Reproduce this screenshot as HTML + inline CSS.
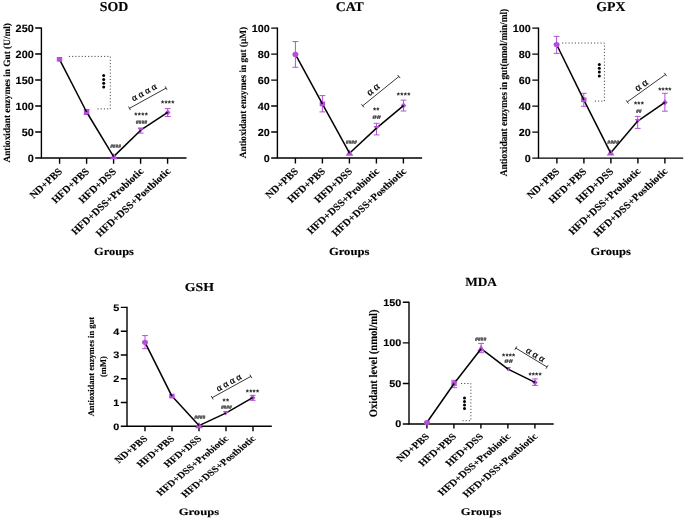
<!DOCTYPE html>
<html><head><meta charset="utf-8"><style>
html,body{margin:0;padding:0;background:#fff;}
svg{display:block;filter:blur(0.35px);}
text{text-rendering:geometricPrecision;}
.t{stroke:#000;stroke-width:0.12px;}
</style></head><body>
<svg width="685" height="519" viewBox="0 0 685 519">
<rect width="685" height="519" fill="#fff"/>
<g><path d="M41.4 27.4V158H186.5" stroke="#000" stroke-width="1.4" fill="none"/><text class="t" transform="translate(33.7 31.75) scale(1.0314 1)" font-family='"Liberation Sans", sans-serif' font-weight="bold" font-size="10.5" text-anchor="end" >250</text><text class="t" transform="translate(33.7 57.75) scale(1.0314 1)" font-family='"Liberation Sans", sans-serif' font-weight="bold" font-size="10.5" text-anchor="end" >200</text><text class="t" transform="translate(33.7 83.75) scale(1.0314 1)" font-family='"Liberation Sans", sans-serif' font-weight="bold" font-size="10.5" text-anchor="end" >150</text><text class="t" transform="translate(33.7 109.75) scale(1.0314 1)" font-family='"Liberation Sans", sans-serif' font-weight="bold" font-size="10.5" text-anchor="end" >100</text><text class="t" transform="translate(33.7 135.75) scale(1.0314 1)" font-family='"Liberation Sans", sans-serif' font-weight="bold" font-size="10.5" text-anchor="end" >50</text><text class="t" transform="translate(33.7 161.75) scale(1.0314 1)" font-family='"Liberation Sans", sans-serif' font-weight="bold" font-size="10.5" text-anchor="end" >0</text><text class="t" transform="translate(63.1 172) scale(1.0870 1) rotate(-45)" font-family='"Liberation Serif", serif' font-weight="bold" font-size="9.93" text-anchor="end" >ND+PBS</text><text class="t" transform="translate(90.1 172) scale(1.0870 1) rotate(-45)" font-family='"Liberation Serif", serif' font-weight="bold" font-size="9.93" text-anchor="end" >HFD+PBS</text><text class="t" transform="translate(117.1 172) scale(1.0870 1) rotate(-45)" font-family='"Liberation Serif", serif' font-weight="bold" font-size="9.93" text-anchor="end" >HFD+DSS</text><text class="t" transform="translate(144.1 172) scale(1.0870 1) rotate(-45)" font-family='"Liberation Serif", serif' font-weight="bold" font-size="9.93" text-anchor="end" >HFD+DSS+Probiotic</text><text class="t" transform="translate(171.1 172) scale(1.0870 1) rotate(-45)" font-family='"Liberation Serif", serif' font-weight="bold" font-size="9.93" text-anchor="end" >HFD+DSS+Postbiotic</text><path d="M35.2 28H41.4M35.2 54H41.4M35.2 80H41.4M35.2 106H41.4M35.2 132H41.4M35.2 158H41.4M59.6 158V163.8M86.6 158V163.8M113.6 158V163.8M140.6 158V163.8M167.6 158V163.8" stroke="#000" stroke-width="1.4" fill="none"/><text class="t" transform="translate(113.95 10.7) scale(1.0192 1)" font-family='"Liberation Serif", serif' font-weight="bold" font-size="13.6" text-anchor="middle" >SOD</text><text class="t" transform="translate(113.95 254.6) scale(1.1312 1)" font-family='"Liberation Serif", serif' font-weight="bold" font-size="11.0" text-anchor="middle" >Groups</text><text class="t" transform="translate(10 92.8) scale(1.0300 1) rotate(-90)" font-family='"Liberation Serif", serif' font-weight="bold" font-size="9.3" text-anchor="middle" >Antioxidant enzymes in Gut (U/ml)</text><path d="M86.6 109.5V114.5M83.7 109.5H89.5M83.7 114.5H89.5" stroke="#b450d8" stroke-width="1.0" fill="none"/><path d="M140.7 128V133.1M137.8 128H143.6M137.8 133.1H143.6" stroke="#b450d8" stroke-width="1.0" fill="none"/><path d="M167.7 108.6V116.5M164.8 108.6H170.6M164.8 116.5H170.6" stroke="#b450d8" stroke-width="1.0" fill="none"/><path d="M167.7 109.4L170.5 112.4L167.7 115.4L164.9 112.4Z" fill="#b450d8"/><path d="M140.7 130.2L167.7 112.4" stroke="#000" stroke-width="1.5" fill="none"/><path d="M140.7 132.6L143.6 128L137.8 128Z" fill="#b450d8"/><path d="M113.6 156.6L140.7 130.2" stroke="#000" stroke-width="1.5" fill="none"/><path d="M113.6 153L117.4 159.2L109.8 159.2Z" fill="#b450d8"/><path d="M86.6 112L113.6 156.6" stroke="#000" stroke-width="1.5" fill="none"/><rect x="83.9" y="109.65" width="5.4" height="4.7" fill="#b450d8"/><path d="M59.5 59.3L86.6 112" stroke="#000" stroke-width="1.5" fill="none"/><rect x="56.8" y="56.95" width="5.4" height="4.7" fill="#b450d8"/></g>
<g><path d="M277.4 27.5V158.05H422.1" stroke="#000" stroke-width="1.4" fill="none"/><text class="t" transform="translate(269.7 31.78) scale(1.0509 1)" font-family='"Liberation Sans", sans-serif' font-weight="bold" font-size="10.311" text-anchor="end" >100</text><text class="t" transform="translate(269.7 57.77) scale(1.0509 1)" font-family='"Liberation Sans", sans-serif' font-weight="bold" font-size="10.311" text-anchor="end" >80</text><text class="t" transform="translate(269.7 83.76) scale(1.0509 1)" font-family='"Liberation Sans", sans-serif' font-weight="bold" font-size="10.311" text-anchor="end" >60</text><text class="t" transform="translate(269.7 109.75) scale(1.0509 1)" font-family='"Liberation Sans", sans-serif' font-weight="bold" font-size="10.311" text-anchor="end" >40</text><text class="t" transform="translate(269.7 135.74) scale(1.0509 1)" font-family='"Liberation Sans", sans-serif' font-weight="bold" font-size="10.311" text-anchor="end" >20</text><text class="t" transform="translate(269.7 161.73) scale(1.0509 1)" font-family='"Liberation Sans", sans-serif' font-weight="bold" font-size="10.311" text-anchor="end" >0</text><text class="t" transform="translate(299 171.95) scale(1.0990 1) rotate(-45)" font-family='"Liberation Serif", serif' font-weight="bold" font-size="9.84" text-anchor="end" >ND+PBS</text><text class="t" transform="translate(326 171.95) scale(1.0990 1) rotate(-45)" font-family='"Liberation Serif", serif' font-weight="bold" font-size="9.84" text-anchor="end" >HFD+PBS</text><text class="t" transform="translate(353 171.95) scale(1.0990 1) rotate(-45)" font-family='"Liberation Serif", serif' font-weight="bold" font-size="9.84" text-anchor="end" >HFD+DSS</text><text class="t" transform="translate(380 171.95) scale(1.0990 1) rotate(-45)" font-family='"Liberation Serif", serif' font-weight="bold" font-size="9.84" text-anchor="end" >HFD+DSS+Probiotic</text><text class="t" transform="translate(407 171.95) scale(1.0990 1) rotate(-45)" font-family='"Liberation Serif", serif' font-weight="bold" font-size="9.84" text-anchor="end" >HFD+DSS+Postbiotic</text><path d="M271.2 28.1H277.4M271.2 54.09H277.4M271.2 80.08H277.4M271.2 106.07H277.4M271.2 132.06H277.4M271.2 158.05H277.4M295.4 158.05V163.55M322.4 158.05V163.55M349.4 158.05V163.55M376.4 158.05V163.55M403.4 158.05V163.55" stroke="#000" stroke-width="1.4" fill="none"/><text class="t" transform="translate(349.75 10.7) scale(1.0385 1)" font-family='"Liberation Serif", serif' font-weight="bold" font-size="13.3552" text-anchor="middle" >CAT</text><text class="t" transform="translate(349.15 254.9) scale(1.1695 1)" font-family='"Liberation Serif", serif' font-weight="bold" font-size="10.802" text-anchor="middle" >Groups</text><text class="t" transform="translate(246 92.6) scale(1.0300 1) rotate(-90)" font-family='"Liberation Serif", serif' font-weight="bold" font-size="9.3" text-anchor="middle" >Antioxidant enzymes in gut (μM)</text><path d="M295.4 41.6V67.3M292.5 41.6H298.3M292.5 67.3H298.3" stroke="#b450d8" stroke-width="1.0" fill="none"/><path d="M322.4 95.6V111.9M319.5 95.6H325.3M319.5 111.9H325.3" stroke="#b450d8" stroke-width="1.0" fill="none"/><path d="M376.5 123.3V134.9M373.6 123.3H379.4M373.6 134.9H379.4" stroke="#b450d8" stroke-width="1.0" fill="none"/><path d="M403.5 100.1V111M400.6 100.1H406.4M400.6 111H406.4" stroke="#b450d8" stroke-width="1.0" fill="none"/><path d="M403.5 102.6L406.3 105.6L403.5 108.6L400.7 105.6Z" fill="#b450d8"/><path d="M376.5 128.1L403.5 105.6" stroke="#000" stroke-width="1.5" fill="none"/><path d="M376.5 130.5L379.4 125.9L373.6 125.9Z" fill="#b450d8"/><path d="M349.5 153.2L376.5 128.1" stroke="#000" stroke-width="1.5" fill="none"/><path d="M349.5 149.6L353.3 155.8L345.7 155.8Z" fill="#b450d8"/><path d="M322.4 103.9L349.5 153.2" stroke="#000" stroke-width="1.5" fill="none"/><rect x="319.7" y="101.55" width="5.4" height="4.7" fill="#b450d8"/><path d="M295.4 54.4L322.4 103.9" stroke="#000" stroke-width="1.5" fill="none"/><ellipse cx="295.4" cy="54.4" rx="3.0" ry="2.55" fill="#b450d8"/></g>
<g><path d="M538.5 27.5V158.1H683.2" stroke="#000" stroke-width="1.4" fill="none"/><text class="t" transform="translate(530.8 31.82) scale(1.0360 1)" font-family='"Liberation Sans", sans-serif' font-weight="bold" font-size="10.416" text-anchor="end" >100</text><text class="t" transform="translate(530.8 57.82) scale(1.0360 1)" font-family='"Liberation Sans", sans-serif' font-weight="bold" font-size="10.416" text-anchor="end" >80</text><text class="t" transform="translate(530.8 83.82) scale(1.0360 1)" font-family='"Liberation Sans", sans-serif' font-weight="bold" font-size="10.416" text-anchor="end" >60</text><text class="t" transform="translate(530.8 109.82) scale(1.0360 1)" font-family='"Liberation Sans", sans-serif' font-weight="bold" font-size="10.416" text-anchor="end" >40</text><text class="t" transform="translate(530.8 135.82) scale(1.0360 1)" font-family='"Liberation Sans", sans-serif' font-weight="bold" font-size="10.416" text-anchor="end" >20</text><text class="t" transform="translate(530.8 161.82) scale(1.0360 1)" font-family='"Liberation Sans", sans-serif' font-weight="bold" font-size="10.416" text-anchor="end" >0</text><text class="t" transform="translate(560.2 172) scale(1.0840 1) rotate(-45)" font-family='"Liberation Serif", serif' font-weight="bold" font-size="9.93" text-anchor="end" >ND+PBS</text><text class="t" transform="translate(587.2 172) scale(1.0840 1) rotate(-45)" font-family='"Liberation Serif", serif' font-weight="bold" font-size="9.93" text-anchor="end" >HFD+PBS</text><text class="t" transform="translate(614.2 172) scale(1.0840 1) rotate(-45)" font-family='"Liberation Serif", serif' font-weight="bold" font-size="9.93" text-anchor="end" >HFD+DSS</text><text class="t" transform="translate(641.2 172) scale(1.0840 1) rotate(-45)" font-family='"Liberation Serif", serif' font-weight="bold" font-size="9.93" text-anchor="end" >HFD+DSS+Probiotic</text><text class="t" transform="translate(668.2 172) scale(1.0840 1) rotate(-45)" font-family='"Liberation Serif", serif' font-weight="bold" font-size="9.93" text-anchor="end" >HFD+DSS+Postbiotic</text><path d="M532.3 28.1H538.5M532.3 54.1H538.5M532.3 80.1H538.5M532.3 106.1H538.5M532.3 132.1H538.5M532.3 158.1H538.5M556.9 158.1V163.6M583.9 158.1V163.6M610.9 158.1V163.6M637.9 158.1V163.6M664.9 158.1V163.6" stroke="#000" stroke-width="1.4" fill="none"/><text class="t" transform="translate(610.85 10.7) scale(1.0238 1)" font-family='"Liberation Serif", serif' font-weight="bold" font-size="13.4912" text-anchor="middle" >GPX</text><text class="t" transform="translate(610.65 254.9) scale(1.1530 1)" font-family='"Liberation Serif", serif' font-weight="bold" font-size="10.911999999999999" text-anchor="middle" >Groups</text><text class="t" transform="translate(507.3 92.5) scale(1.1000 1) rotate(-90)" font-family='"Liberation Serif", serif' font-weight="bold" font-size="9.38" text-anchor="middle" >Antioxidant enzymes in gut(nmol/min/ml)</text><path d="M556.6 36.4V53.4M553.7 36.4H559.5M553.7 53.4H559.5" stroke="#b450d8" stroke-width="1.0" fill="none"/><path d="M583.8 93.3V106.3M580.9 93.3H586.7M580.9 106.3H586.7" stroke="#b450d8" stroke-width="1.0" fill="none"/><path d="M637.7 116.4V128.4M634.8 116.4H640.6M634.8 128.4H640.6" stroke="#b450d8" stroke-width="1.0" fill="none"/><path d="M664.9 93.3V111.2M662 93.3H667.8M662 111.2H667.8" stroke="#b450d8" stroke-width="1.0" fill="none"/><path d="M664.9 99.4L667.7 102.4L664.9 105.4L662.1 102.4Z" fill="#b450d8"/><path d="M637.7 121.1L664.9 102.4" stroke="#000" stroke-width="1.5" fill="none"/><path d="M637.7 123.5L640.6 118.9L634.8 118.9Z" fill="#b450d8"/><path d="M610.6 152.9L637.7 121.1" stroke="#000" stroke-width="1.5" fill="none"/><path d="M610.6 149.3L614.4 155.5L606.8 155.5Z" fill="#b450d8"/><path d="M583.8 99.8L610.6 152.9" stroke="#000" stroke-width="1.5" fill="none"/><rect x="581.1" y="97.45" width="5.4" height="4.7" fill="#b450d8"/><path d="M556.6 44.5L583.8 99.8" stroke="#000" stroke-width="1.5" fill="none"/><ellipse cx="556.6" cy="44.5" rx="3.0" ry="2.55" fill="#b450d8"/></g>
<g><path d="M127 306.8V426.3H271.8" stroke="#000" stroke-width="1.4" fill="none"/><text class="t" transform="translate(119.3 310.75) scale(1.1560 1)" font-family='"Liberation Sans", sans-serif' font-weight="bold" font-size="9.387" text-anchor="end" >5</text><text class="t" transform="translate(119.3 334.53) scale(1.1560 1)" font-family='"Liberation Sans", sans-serif' font-weight="bold" font-size="9.387" text-anchor="end" >4</text><text class="t" transform="translate(119.3 358.31) scale(1.1560 1)" font-family='"Liberation Sans", sans-serif' font-weight="bold" font-size="9.387" text-anchor="end" >3</text><text class="t" transform="translate(119.3 382.09) scale(1.1560 1)" font-family='"Liberation Sans", sans-serif' font-weight="bold" font-size="9.387" text-anchor="end" >2</text><text class="t" transform="translate(119.3 405.87) scale(1.1560 1)" font-family='"Liberation Sans", sans-serif' font-weight="bold" font-size="9.387" text-anchor="end" >1</text><text class="t" transform="translate(119.3 429.65) scale(1.1560 1)" font-family='"Liberation Sans", sans-serif' font-weight="bold" font-size="9.387" text-anchor="end" >0</text><text class="t" transform="translate(148.2 439.3) scale(1.2090 1) rotate(-45)" font-family='"Liberation Serif", serif' font-weight="bold" font-size="8.94" text-anchor="end" >ND+PBS</text><text class="t" transform="translate(175.2 439.3) scale(1.2090 1) rotate(-45)" font-family='"Liberation Serif", serif' font-weight="bold" font-size="8.94" text-anchor="end" >HFD+PBS</text><text class="t" transform="translate(202.2 439.3) scale(1.2090 1) rotate(-45)" font-family='"Liberation Serif", serif' font-weight="bold" font-size="8.94" text-anchor="end" >HFD+DSS</text><text class="t" transform="translate(229.2 439.3) scale(1.2090 1) rotate(-45)" font-family='"Liberation Serif", serif' font-weight="bold" font-size="8.94" text-anchor="end" >HFD+DSS+Probiotic</text><text class="t" transform="translate(256.2 439.3) scale(1.2090 1) rotate(-45)" font-family='"Liberation Serif", serif' font-weight="bold" font-size="8.94" text-anchor="end" >HFD+DSS+Postbiotic</text><path d="M120.8 307.4H127M120.8 331.18H127M120.8 354.96H127M120.8 378.74H127M120.8 402.52H127M120.8 426.3H127M145 426.3V431.2M172 426.3V431.2M199 426.3V431.2M226 426.3V431.2M253 426.3V431.2" stroke="#000" stroke-width="1.4" fill="none"/><text class="t" transform="translate(199.4 291.4) scale(1.1423 1)" font-family='"Liberation Serif", serif' font-weight="bold" font-size="12.1584" text-anchor="middle" >GSH</text><text class="t" transform="translate(198.9 514.5) scale(1.2865 1)" font-family='"Liberation Serif", serif' font-weight="bold" font-size="9.834" text-anchor="middle" >Groups</text><text class="t" transform="translate(94 366.6) scale(1.0300 1) rotate(-90)" font-family='"Liberation Serif", serif' font-weight="bold" font-size="8.5" text-anchor="middle" >Antioxidant enzymes in gut</text><text class="t" transform="translate(106 366.6) scale(1.0300 1) rotate(-90)" font-family='"Liberation Serif", serif' font-weight="bold" font-size="8.5" text-anchor="middle" >(mM)</text><path d="M145 335.6V348.7M142.1 335.6H147.9M142.1 348.7H147.9" stroke="#b450d8" stroke-width="1.0" fill="none"/><path d="M252.7 395.3V400.3M249.8 395.3H255.6M249.8 400.3H255.6" stroke="#b450d8" stroke-width="1.0" fill="none"/><path d="M252.7 394.7L255.5 397.7L252.7 400.7L249.9 397.7Z" fill="#b450d8"/><path d="M225.8 413.1L252.7 397.7" stroke="#000" stroke-width="1.5" fill="none"/><path d="M225.8 415.5L228.7 410.9L222.9 410.9Z" fill="#b450d8"/><path d="M199 425.6L225.8 413.1" stroke="#000" stroke-width="1.5" fill="none"/><path d="M199 422L202.8 428.2L195.2 428.2Z" fill="#b450d8"/><path d="M171.9 396.1L199 425.6" stroke="#000" stroke-width="1.5" fill="none"/><rect x="169.2" y="393.75" width="5.4" height="4.7" fill="#b450d8"/><path d="M145 342.3L171.9 396.1" stroke="#000" stroke-width="1.5" fill="none"/><ellipse cx="145" cy="342.3" rx="3.0" ry="2.55" fill="#b450d8"/></g>
<g><path d="M409 301.7V424H553.7" stroke="#000" stroke-width="1.4" fill="none"/><text class="t" transform="translate(401.3 305.75) scale(1.1207 1)" font-family='"Liberation Sans", sans-serif' font-weight="bold" font-size="9.6705" text-anchor="end" >150</text><text class="t" transform="translate(401.3 346.32) scale(1.1207 1)" font-family='"Liberation Sans", sans-serif' font-weight="bold" font-size="9.6705" text-anchor="end" >100</text><text class="t" transform="translate(401.3 386.89) scale(1.1207 1)" font-family='"Liberation Sans", sans-serif' font-weight="bold" font-size="9.6705" text-anchor="end" >50</text><text class="t" transform="translate(401.3 427.45) scale(1.1207 1)" font-family='"Liberation Sans", sans-serif' font-weight="bold" font-size="9.6705" text-anchor="end" >0</text><text class="t" transform="translate(430.1 437.2) scale(1.1710 1) rotate(-45)" font-family='"Liberation Serif", serif' font-weight="bold" font-size="9.23" text-anchor="end" >ND+PBS</text><text class="t" transform="translate(457.1 437.2) scale(1.1710 1) rotate(-45)" font-family='"Liberation Serif", serif' font-weight="bold" font-size="9.23" text-anchor="end" >HFD+PBS</text><text class="t" transform="translate(484.1 437.2) scale(1.1710 1) rotate(-45)" font-family='"Liberation Serif", serif' font-weight="bold" font-size="9.23" text-anchor="end" >HFD+DSS</text><text class="t" transform="translate(511.1 437.2) scale(1.1710 1) rotate(-45)" font-family='"Liberation Serif", serif' font-weight="bold" font-size="9.23" text-anchor="end" >HFD+DSS+Probiotic</text><text class="t" transform="translate(538.1 437.2) scale(1.1710 1) rotate(-45)" font-family='"Liberation Serif", serif' font-weight="bold" font-size="9.23" text-anchor="end" >HFD+DSS+Postbiotic</text><path d="M402.8 302.3H409M402.8 342.87H409M402.8 383.43H409M402.8 424H409M426.9 424V428.6M453.9 424V428.6M480.9 424V428.6M507.9 424V428.6M534.9 424V428.6" stroke="#000" stroke-width="1.4" fill="none"/><text class="t" transform="translate(481.05 285.8) scale(1.0631 1)" font-family='"Liberation Serif", serif' font-weight="bold" font-size="12.5256" text-anchor="middle" >MDA</text><text class="t" transform="translate(481.05 514.6) scale(1.2472 1)" font-family='"Liberation Serif", serif' font-weight="bold" font-size="10.131" text-anchor="middle" >Groups</text><text class="t" transform="translate(377.1 363.4) scale(1.0900 1) rotate(-90)" font-family='"Liberation Serif", serif' font-weight="bold" font-size="10.6" text-anchor="middle" >Oxidant level (nmol/ml)</text><path d="M454.1 380.3V387.7M451.2 380.3H457M451.2 387.7H457" stroke="#b450d8" stroke-width="1.0" fill="none"/><path d="M481.1 343.4V352.7M478.2 343.4H484M478.2 352.7H484" stroke="#b450d8" stroke-width="1.0" fill="none"/><path d="M535 378.9V385.4M532.1 378.9H537.9M532.1 385.4H537.9" stroke="#b450d8" stroke-width="1.0" fill="none"/><path d="M535 379.4L537.8 382.4L535 385.4L532.2 382.4Z" fill="#b450d8"/><path d="M508 369.1L535 382.4" stroke="#000" stroke-width="1.5" fill="none"/><path d="M508 371.5L510.9 366.9L505.1 366.9Z" fill="#b450d8"/><path d="M481.1 348.7L508 369.1" stroke="#000" stroke-width="1.5" fill="none"/><path d="M481.1 345.1L484.9 351.3L477.3 351.3Z" fill="#b450d8"/><path d="M454.1 383.5L481.1 348.7" stroke="#000" stroke-width="1.5" fill="none"/><rect x="451.4" y="381.15" width="5.4" height="4.7" fill="#b450d8"/><path d="M426.9 422.5L454.1 383.5" stroke="#000" stroke-width="1.5" fill="none"/><ellipse cx="426.9" cy="422.5" rx="3.0" ry="2.55" fill="#b450d8"/></g>
<g><path d="M68.9 56.4L110.3 56.4L110.3 108.9L96.7 108.9" stroke="#444" stroke-width="1" stroke-dasharray="1.1 2.1" fill="none"/><path d="M562.1 43L604.4 43L604.4 101.1L594.7 101.1" stroke="#444" stroke-width="1" stroke-dasharray="1.1 2.1" fill="none"/><path d="M461 383.5L470.9 383.5L470.9 420.7L462.4 420.7" stroke="#444" stroke-width="1" stroke-dasharray="1.1 2.1" fill="none"/><circle cx="103.7" cy="75.6" r="1.5" fill="#000"/><circle cx="103.7" cy="79.42" r="1.5" fill="#000"/><circle cx="103.7" cy="83.24" r="1.5" fill="#000"/><circle cx="103.7" cy="87.06" r="1.5" fill="#000"/><circle cx="599.3" cy="64.5" r="1.5" fill="#000"/><circle cx="599.3" cy="68.3" r="1.5" fill="#000"/><circle cx="599.3" cy="72.1" r="1.5" fill="#000"/><circle cx="599.3" cy="75.9" r="1.5" fill="#000"/><circle cx="464.5" cy="397.9" r="1.5" fill="#000"/><circle cx="464.5" cy="401.45" r="1.5" fill="#000"/><circle cx="464.5" cy="405" r="1.5" fill="#000"/><circle cx="464.5" cy="408.55" r="1.5" fill="#000"/><path d="M129.5 108.3L166.1 88.1M130.47 110.05L128.53 106.55M167.07 89.85L165.13 86.35" stroke="#222" stroke-width="0.9" fill="none"/><text transform="translate(145.57 94.89) rotate(-28.89)" font-family='"Liberation Serif", serif' font-size="9.6" text-anchor="middle" fill="#000" stroke="#000" stroke-width="0.25">α α α α</text><path d="M362.7 105.8L398.9 76.5M363.96 107.35L361.44 104.25M400.16 78.05L397.64 74.95" stroke="#222" stroke-width="0.9" fill="none"/><text transform="translate(375.04 91.82) rotate(-38.99)" font-family='"Liberation Serif", serif' font-size="10.6" text-anchor="middle" fill="#000" stroke="#000" stroke-width="0.25">α α</text><path d="M627.3 101.9L665.5 74.5M628.47 103.53L626.13 100.27M666.67 76.13L664.33 72.87" stroke="#222" stroke-width="0.9" fill="none"/><text transform="translate(643.12 87.66) rotate(-35.65)" font-family='"Liberation Serif", serif' font-size="10.6" text-anchor="middle" fill="#000" stroke="#000" stroke-width="0.25">α α</text><path d="M212.2 397.7L250.8 376.4M213.17 399.45L211.23 395.95M251.77 378.15L249.83 374.65" stroke="#222" stroke-width="0.9" fill="none"/><text transform="translate(230.1 385.11) rotate(-28.89)" font-family='"Liberation Serif", serif' font-size="9.6" text-anchor="middle" fill="#000" stroke="#000" stroke-width="0.25">α α α α</text><path d="M515.8 348.1L547 367M514.76 349.81L516.84 346.39M545.96 368.71L548.04 365.29" stroke="#222" stroke-width="0.9" fill="none"/><text transform="translate(534 357.25) rotate(31.21)" font-family='"Liberation Serif", serif' font-size="9.9" text-anchor="middle" fill="#000" stroke="#000" stroke-width="0.25">α α α</text><text x="134.3" y="118.22" textLength="13.6" lengthAdjust="spacing" font-family='"Liberation Sans", sans-serif' font-weight="bold" font-size="8.0" fill="#111">****</text><text x="161" y="106.22" textLength="13.4" lengthAdjust="spacing" font-family='"Liberation Sans", sans-serif' font-weight="bold" font-size="8.0" fill="#111">****</text><text x="372.9" y="112.82" textLength="6.4" lengthAdjust="spacing" font-family='"Liberation Sans", sans-serif' font-weight="bold" font-size="8.0" fill="#111">**</text><text x="396.8" y="97.92" textLength="13.6" lengthAdjust="spacing" font-family='"Liberation Sans", sans-serif' font-weight="bold" font-size="8.0" fill="#111">****</text><text x="633.95" y="107.32" textLength="9.9" lengthAdjust="spacing" font-family='"Liberation Sans", sans-serif' font-weight="bold" font-size="8.0" fill="#111">***</text><text x="658.3" y="93.02" textLength="13" lengthAdjust="spacing" font-family='"Liberation Sans", sans-serif' font-weight="bold" font-size="8.0" fill="#111">****</text><text x="222.5" y="403.72" textLength="6.6" lengthAdjust="spacing" font-family='"Liberation Sans", sans-serif' font-weight="bold" font-size="8.0" fill="#111">**</text><text x="245.7" y="395.12" textLength="13.4" lengthAdjust="spacing" font-family='"Liberation Sans", sans-serif' font-weight="bold" font-size="8.0" fill="#111">****</text><text x="502.05" y="359.42" textLength="13.1" lengthAdjust="spacing" font-family='"Liberation Sans", sans-serif' font-weight="bold" font-size="8.0" fill="#111">****</text><text x="528.4" y="378.02" textLength="13.2" lengthAdjust="spacing" font-family='"Liberation Sans", sans-serif' font-weight="bold" font-size="8.0" fill="#111">****</text><text x="110.2" y="147.6" textLength="10.6" lengthAdjust="spacingAndGlyphs" font-family='"Liberation Sans", sans-serif' font-style="italic" font-weight="bold" font-size="5.3" fill="#222" stroke="#222" stroke-width="0.2">####</text><text x="135.7" y="123.6" textLength="11.4" lengthAdjust="spacingAndGlyphs" font-family='"Liberation Sans", sans-serif' font-style="italic" font-weight="bold" font-size="5.3" fill="#222" stroke="#222" stroke-width="0.2">####</text><text x="345.65" y="143.8" textLength="11.3" lengthAdjust="spacingAndGlyphs" font-family='"Liberation Sans", sans-serif' font-style="italic" font-weight="bold" font-size="5.3" fill="#222" stroke="#222" stroke-width="0.2">####</text><text x="372.2" y="119" textLength="8.6" lengthAdjust="spacingAndGlyphs" font-family='"Liberation Sans", sans-serif' font-style="italic" font-weight="bold" font-size="5.3" fill="#222" stroke="#222" stroke-width="0.2">##</text><text x="607.35" y="143.9" textLength="11.5" lengthAdjust="spacingAndGlyphs" font-family='"Liberation Sans", sans-serif' font-style="italic" font-weight="bold" font-size="5.3" fill="#222" stroke="#222" stroke-width="0.2">####</text><text x="636.05" y="112.8" textLength="5.5" lengthAdjust="spacingAndGlyphs" font-family='"Liberation Sans", sans-serif' font-style="italic" font-weight="bold" font-size="5.3" fill="#222" stroke="#222" stroke-width="0.2">##</text><text x="194.25" y="419.1" textLength="11.1" lengthAdjust="spacingAndGlyphs" font-family='"Liberation Sans", sans-serif' font-style="italic" font-weight="bold" font-size="5.3" fill="#222" stroke="#222" stroke-width="0.2">####</text><text x="220.9" y="408.6" textLength="10.8" lengthAdjust="spacingAndGlyphs" font-family='"Liberation Sans", sans-serif' font-style="italic" font-weight="bold" font-size="5.3" fill="#222" stroke="#222" stroke-width="0.2">####</text><text x="475" y="340.7" textLength="11.2" lengthAdjust="spacingAndGlyphs" font-family='"Liberation Sans", sans-serif' font-style="italic" font-weight="bold" font-size="5.3" fill="#222" stroke="#222" stroke-width="0.2">####</text><text x="504.25" y="363.4" textLength="8.5" lengthAdjust="spacingAndGlyphs" font-family='"Liberation Sans", sans-serif' font-style="italic" font-weight="bold" font-size="5.3" fill="#222" stroke="#222" stroke-width="0.2">##</text></g>
</svg>
</body></html>
